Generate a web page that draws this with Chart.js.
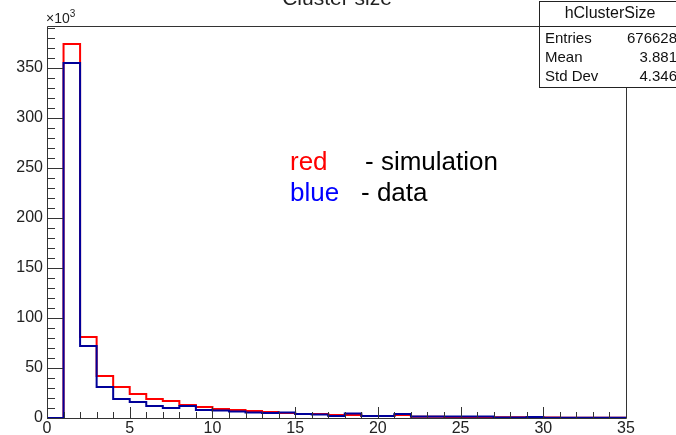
<!DOCTYPE html>
<html>
<head>
<meta charset="utf-8">
<script src="https://cdn.jsdelivr.net/npm/chart.js@4/dist/chart.umd.min.js"></script>
<style>
  html, body { margin: 0; padding: 0; background: #fff; }
  canvas { display: block; }
</style>
</head>
<body>
<canvas id="myChart" width="676" height="435"></canvas>
<script>
// cluster size bins, width 1, low edges 0..34
const binLow = [0, 1, 2, 3, 4, 5, 6, 7, 8, 9, 10, 11, 12, 13, 14, 15, 16, 17,
  18, 19, 20, 21, 22, 23, 24, 25, 26, 27, 28, 29, 30, 31, 32, 33, 34];
const binHigh = 35;

// entries per bin, x10^3
const simCounts = [0, 374, 81, 42, 31, 24, 19, 17, 13, 11, 9, 8, 7, 6, 5, 4, 4, 3,
  3, 2, 2, 3, 1.2, 1.2, 1, 1, 1, 0.8, 0.8, 1, 0.4, 0.3, 0.3, 0.3, 0.3];
const dataCounts = [0, 355, 72, 31, 19, 16, 12, 10, 12, 8, 7.5, 6.5, 5.5, 5, 5.5, 4, 3.5, 2,
  4.5, 2, 2, 4, 1.5, 1.5, 1.5, 1.5, 1.5, 0.6, 0.6, 1, 0.3, 0.3, 0.3, 0.3, 0.3];

const yTicks = [0, 50, 100, 150, 200, 250, 300, 350];
const xTicks = [0, 5, 10, 15, 20, 25, 30, 35];

const statsTitle = "hClusterSize";
const statsRows = [["Entries", "676628"], ["Mean", "3.881"], ["Std Dev", "4.346"]];

const FONT = "'Liberation Sans', Arial, Helvetica, sans-serif";

// histogram outline as step points, closed at the upper edge
function toSteps(counts) {
  const pts = binLow.map((x, i) => ({ x: x, y: counts[i] }));
  pts.push({ x: binHigh, y: 0 });
  return pts;
}

const framePlugin = {
  id: "rootFrame",
  afterDraw: (chart) => {
    const { ctx, chartArea, scales } = chart;
    const { left, right, top, bottom } = chartArea;
    const xs = scales.x, ys = scales.y;

    ctx.save();
    ctx.strokeStyle = "#333";
    ctx.lineWidth = 1;

    // frame
    ctx.beginPath();
    ctx.moveTo(left + 0.5, bottom + 0.5);
    ctx.lineTo(left + 0.5, top + 0.5);
    ctx.lineTo(right + 0.5, top + 0.5);
    ctx.lineTo(right + 0.5, bottom + 0.5);
    ctx.lineTo(left + 0.5, bottom + 0.5);
    ctx.stroke();

    // inward ticks on y
    ctx.beginPath();
    for (let v = 0; v <= 390; v += 10) {
      const y = Math.round(ys.getPixelForValue(v)) + 0.5;
      const len = v % 50 === 0 ? 16 : 8;
      ctx.moveTo(left, y);
      ctx.lineTo(left + len, y);
    }
    // inward ticks on x
    for (let v = 0; v <= 35; v += 1) {
      const x = Math.round(xs.getPixelForValue(v)) + 0.5;
      const len = v % 5 === 0 ? 11 : 6;
      ctx.moveTo(x, bottom);
      ctx.lineTo(x, bottom - len);
    }
    ctx.stroke();

    // axis exponent
    ctx.fillStyle = "#222";
    ctx.textBaseline = "alphabetic";
    ctx.textAlign = "left";
    ctx.font = "14px " + FONT;
    ctx.fillText("\u00d710", left - 1, 23);
    const w = ctx.measureText("\u00d710").width;
    ctx.font = "10px " + FONT;
    ctx.fillText("3", left - 1 + w, 17);

    // title, partly above the canvas
    ctx.font = "21px " + FONT;
    ctx.textAlign = "center";
    ctx.fillText("Cluster size", 337, 5);

    // stats box
    const bx = 539, by = 1, bw = 145, bh = 86, rowTop = 26;
    ctx.fillStyle = "#fff";
    ctx.fillRect(bx, by, bw, bh);
    ctx.strokeStyle = "#222";
    ctx.strokeRect(bx + 0.5, by + 0.5, bw, bh);
    ctx.beginPath();
    ctx.moveTo(bx, rowTop + 0.5);
    ctx.lineTo(bx + bw, rowTop + 0.5);
    ctx.stroke();

    ctx.fillStyle = "#111";
    ctx.textBaseline = "middle";
    ctx.font = "16px " + FONT;
    ctx.textAlign = "center";
    ctx.fillText(statsTitle, 610, 14);
    ctx.font = "15px " + FONT;
    statsRows.forEach((row, i) => {
      const y = 39 + i * 19;
      ctx.textAlign = "left";
      ctx.fillText(row[0], 545, y);
      ctx.textAlign = "right";
      ctx.fillText(row[1], 677, y);
    });

    // colour key
    ctx.textBaseline = "alphabetic";
    ctx.textAlign = "left";
    ctx.font = "26px " + FONT;
    ctx.fillStyle = "#ff0000";
    ctx.fillText("red", 290, 170);
    ctx.fillStyle = "#000";
    ctx.fillText("- simulation", 365, 170);
    ctx.fillStyle = "#0000ff";
    ctx.fillText("blue", 290, 201);
    ctx.fillStyle = "#000";
    ctx.fillText("- data", 361, 201);

    ctx.restore();
  },
};

const ctx = document.getElementById("myChart").getContext("2d");

const myChart = new Chart(ctx, {
  type: "line",
  data: {
    datasets: [
      {
        label: "data",
        data: toSteps(dataCounts),
        stepped: "before",
        borderColor: "#000099",
        borderWidth: 2,
        pointRadius: 0,
        fill: false,
        order: 0,
      },
      {
        label: "simulation",
        data: toSteps(simCounts),
        stepped: "before",
        borderColor: "#ff0000",
        borderWidth: 2,
        pointRadius: 0,
        fill: false,
        order: 1,
      },
    ],
  },
  options: {
    responsive: false,
    animation: false,
    layout: { padding: { top: 26, right: 50, left: 0, bottom: 0 } },
    plugins: {
      legend: { display: false },
      tooltip: { enabled: false },
    },
    scales: {
      x: {
        type: "linear",
        min: 0,
        max: 35,
        afterFit: (scale) => { scale.height = 17; },
        afterBuildTicks: (scale) => { scale.ticks = xTicks.map((v) => ({ value: v })); },
        grid: { display: false, drawTicks: false },
        border: { display: false },
        ticks: {
          padding: 1,
          color: "#222",
          font: { family: FONT, size: 16 },
          maxRotation: 0,
          autoSkip: false,
        },
      },
      y: {
        type: "linear",
        min: 0,
        max: 392,
        afterFit: (scale) => { scale.width = 47; },
        afterBuildTicks: (scale) => { scale.ticks = yTicks.map((v) => ({ value: v })); },
        grid: { display: false, drawTicks: false },
        border: { display: false },
        ticks: {
          padding: 4,
          color: "#222",
          font: { family: FONT, size: 16 },
        },
      },
    },
  },
  plugins: [framePlugin],
});
</script>
</body>
</html>
